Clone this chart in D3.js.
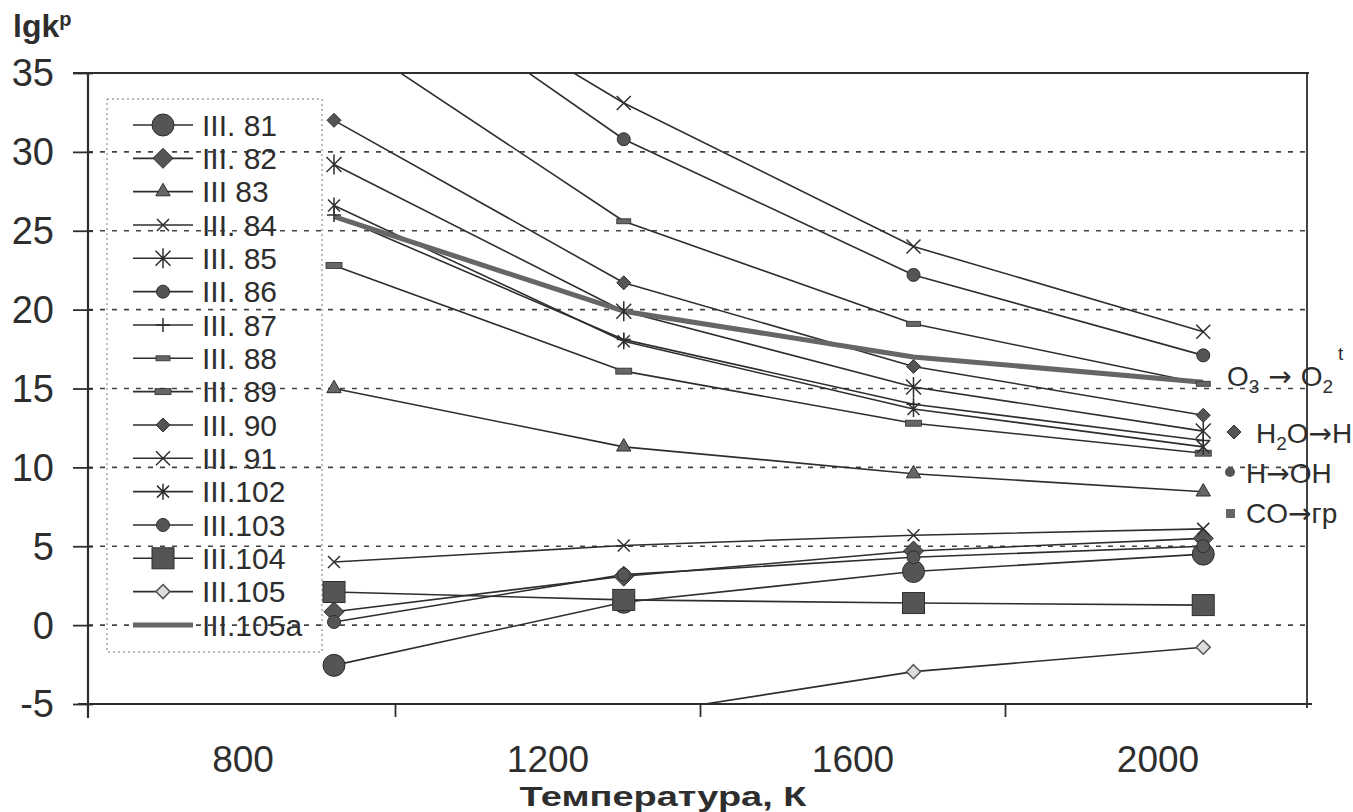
<!DOCTYPE html>
<html>
<head>
<meta charset="utf-8">
<script src="https://cdn.jsdelivr.net/npm/d3@7/dist/d3.min.js"></script>
<style>
  html, body { margin: 0; padding: 0; background: #fff; }
  svg { display: block; font-family: "Liberation Sans", Arial, sans-serif; }
</style>
</head>
<body>
<svg id="chart" width="1353" height="812"></svg>
<script>
// ---------------- DATA ----------------
const temps = [920, 1300, 1680, 2060];          // K, x positions of the 4 data columns
const seriesNames = ["III. 81","III. 82","III 83","III. 84","III. 85","III. 86","III. 87","III. 88",
                     "III. 89","III. 90","III. 91","III.102","III.103","III.104","III.105","III.105a"];
const s81  = [-2.55, 1.45, 3.4, 4.5];
const s82  = [0.85, 3.1, 4.7, 5.5];
const s83  = [15.0, 11.3, 9.6, 8.45];
const s84  = [4.0, 5.05, 5.7, 6.1];
const s85  = [29.2, 19.9, 15.1, 12.3];
const s86  = [43.6, 30.8, 22.2, 17.1];
const s87  = [26.0, 18.1, 14.0, 11.7];
const s88  = [37.8, 25.6, 19.1, 15.3];
const s89  = [22.8, 16.1, 12.8, 10.9];
const s90  = [32.0, 21.7, 16.4, 13.3];
const s91  = [44.1, 33.1, 24.0, 18.6];
const s102 = [26.6, 18.0, 13.7, 11.3];
const s103 = [0.2, 3.2, 4.3, 5.0];
const s104 = [2.1, 1.6, 1.4, 1.27];
const s105 = [null, -5.8, -2.95, -1.4];
const s105a = [25.9, 19.9, 17.0, 15.4];
const seriesValues = [s81, s82, s83, s84, s85, s86, s87, s88, s89, s90, s91, s102, s103, s104, s105, s105a];

const yTicks = [35, 30, 25, 20, 15, 10, 5, 0, -5];
const yGrid = [30, 25, 20, 15, 10, 5, 0];
const xLabelValues = [800, 1200, 1600, 2000];
const xTickValues = [1000, 1400, 1800];
const yTitle = "lgk";
const yTitleSup = "p";
const xTitle = "Температура, К";

// ---------------- STYLE ----------------
const markerTypes = ["bigCircle","bigDiamond","triangle","xSmall","bigStar","circle","plus","dash",
                     "dashBig","smallDiamond","x","star","circle","bigSquare","openDiamond","none"];
const ink = "#2e2e2e";
const markFill = "#555";
const arrowFont = "'DejaVu Sans', sans-serif";

const svg = d3.select("#chart");
const x = d3.scaleLinear().domain([600, 2200]).range([90, 1310]);
const y = d3.scaleLinear().domain([-5, 35]).range([704, 73]);
const plotL = 88, plotR = 1307, plotT = y(35), plotB = y(-5);

svg.append("defs").append("clipPath").attr("id", "plotclip")
  .append("rect").attr("x", plotL).attr("y", plotT).attr("width", plotR - plotL).attr("height", plotB - plotT);

// gridlines
svg.append("g").selectAll("line").data(yGrid).join("line")
  .attr("x1", plotL).attr("x2", plotR)
  .attr("y1", d => y(d)).attr("y2", d => y(d))
  .attr("stroke", "#444").attr("stroke-width", 1.6).attr("stroke-dasharray", "5,7");

// legend box (transparent, drawn under lines)
const legend = svg.append("g");
legend.append("rect").attr("x", 107).attr("y", 99).attr("width", 215).attr("height", 553)
  .attr("fill", "none").attr("stroke", "#777").attr("stroke-width", 1).attr("stroke-dasharray", "2,3");

function diamondPath(h) { return `M0,${-h}L${h},0L0,${h}L${-h},0Z`; }

function drawMarker(g, type, cx, cy) {
  const sw = 1.5;
  switch (type) {
    case "bigCircle":
      g.append("circle").attr("cx", cx).attr("cy", cy).attr("r", 11).attr("fill", markFill).attr("stroke", ink).attr("stroke-width", 1); break;
    case "circle":
      g.append("circle").attr("cx", cx).attr("cy", cy).attr("r", 6.5).attr("fill", markFill).attr("stroke", ink).attr("stroke-width", 1); break;
    case "bigDiamond":
      g.append("path").attr("d", diamondPath(10)).attr("transform", `translate(${cx},${cy})`).attr("fill", markFill).attr("stroke", ink); break;
    case "smallDiamond":
      g.append("path").attr("d", diamondPath(7)).attr("transform", `translate(${cx},${cy})`).attr("fill", markFill).attr("stroke", ink); break;
    case "openDiamond":
      g.append("path").attr("d", diamondPath(7)).attr("transform", `translate(${cx},${cy})`).attr("fill", "#ddd").attr("stroke", "#555").attr("stroke-width", 1.5); break;
    case "triangle":
      g.append("path").attr("d", d3.symbol(d3.symbolTriangle, 90)()).attr("transform", `translate(${cx},${cy})`).attr("fill", "#666").attr("stroke", ink); break;
    case "bigSquare":
      g.append("rect").attr("x", cx - 11).attr("y", cy - 10.5).attr("width", 22).attr("height", 21).attr("fill", markFill).attr("stroke", ink); break;
    case "dash":
      g.append("rect").attr("x", cx - 7).attr("y", cy - 2.5).attr("width", 14).attr("height", 5).attr("fill", "#666").attr("stroke", ink).attr("stroke-width", 0.8); break;
    case "dashBig":
      g.append("rect").attr("x", cx - 8).attr("y", cy - 3).attr("width", 16).attr("height", 6).attr("fill", "#666").attr("stroke", ink).attr("stroke-width", 0.8); break;
    case "xSmall": {
      const r = 6;
      g.append("path").attr("d", `M${cx-r},${cy-r}L${cx+r},${cy+r}M${cx-r},${cy+r}L${cx+r},${cy-r}`).attr("stroke", ink).attr("stroke-width", sw); break; }
    case "x": {
      const r = 7;
      g.append("path").attr("d", `M${cx-r},${cy-r}L${cx+r},${cy+r}M${cx-r},${cy+r}L${cx+r},${cy-r}`).attr("stroke", ink).attr("stroke-width", sw); break; }
    case "plus": {
      const r = 7;
      g.append("path").attr("d", `M${cx-r},${cy}L${cx+r},${cy}M${cx},${cy-r}L${cx},${cy+r}`).attr("stroke", ink).attr("stroke-width", sw); break; }
    case "bigStar": {
      const r = 10, q = 7.5;
      g.append("path").attr("d", `M${cx-q},${cy-q}L${cx+q},${cy+q}M${cx-q},${cy+q}L${cx+q},${cy-q}M${cx},${cy-r}L${cx},${cy+r}`).attr("stroke", ink).attr("stroke-width", sw); break; }
    case "star": {
      const r = 8, q = 6;
      g.append("path").attr("d", `M${cx-q},${cy-q}L${cx+q},${cy+q}M${cx-q},${cy+q}L${cx+q},${cy-q}M${cx},${cy-r}L${cx},${cy+r}`).attr("stroke", ink).attr("stroke-width", sw); break; }
    default: break;
  }
}

// legend entries
const legRow = i => 125 + i * 33.33;
seriesNames.forEach((name, i) => {
  const cy = legRow(i);
  const thick = markerTypes[i] === "none";
  legend.append("line").attr("x1", 133).attr("x2", 193).attr("y1", cy).attr("y2", cy)
    .attr("stroke", thick ? "#666" : ink).attr("stroke-width", thick ? 5 : 1.6);
  drawMarker(legend, markerTypes[i], 163, cy);
  legend.append("text").attr("x", 202).attr("y", cy).attr("dy", "0.36em")
    .attr("font-size", 30).attr("fill", ink).text(name);
});

// series lines
const linesG = svg.append("g").attr("clip-path", "url(#plotclip)");
const lineGen = d3.line().defined(d => d[1] !== null).x(d => x(d[0])).y(d => y(d[1]));
seriesValues.forEach((vals, i) => {
  const pts = temps.map((t, j) => [t, vals[j]]);
  const thick = markerTypes[i] === "none";
  linesG.append("path").datum(pts).attr("d", lineGen).attr("fill", "none")
    .attr("stroke", thick ? "#666" : ink).attr("stroke-width", thick ? 5 : 1.6)
    .attr("stroke-linejoin", "round");
});
// markers (only those within the plot range)
const marksG = svg.append("g");
seriesValues.forEach((vals, i) => {
  temps.forEach((t, j) => {
    const v = vals[j];
    if (v === null || v > 35 || v < -5) return;
    drawMarker(marksG, markerTypes[i], x(t), y(v));
  });
});

// frame
svg.append("line").attr("x1", 73).attr("x2", 1309).attr("y1", plotT).attr("y2", plotT).attr("stroke", ink).attr("stroke-width", 2);
svg.append("line").attr("x1", plotR).attr("x2", plotR).attr("y1", plotT).attr("y2", plotB + 4).attr("stroke", ink).attr("stroke-width", 1.8);

// y axis
const yAxis = svg.append("g").attr("transform", `translate(${plotL},0)`)
  .call(d3.axisLeft(y).tickValues(yTicks).tickSize(15).tickPadding(19).tickFormat(d => String(d)));
yAxis.select(".domain").attr("d", `M0,${plotT}V${plotB + 14}`).attr("stroke", ink).attr("stroke-width", 2.2);
yAxis.selectAll(".tick line").attr("x1", 5).attr("stroke", ink).attr("stroke-width", 1.8);
yAxis.selectAll(".tick text").attr("font-size", 38).attr("fill", ink)
  .attr("font-family", "'Liberation Sans', Arial, sans-serif").attr("dy", "0.34em");

// x axis (tick marks) and bottom line
const xAxis = svg.append("g").attr("transform", `translate(0,${plotB})`)
  .call(d3.axisBottom(x).tickValues(xTickValues).tickSize(13).tickFormat(""));
xAxis.select(".domain").attr("d", `M78,0H1312`).attr("stroke", ink).attr("stroke-width", 2.2);
xAxis.selectAll(".tick line").attr("stroke", ink).attr("stroke-width", 1.8);
// x labels
const xLab = svg.append("g").attr("transform", `translate(0,${plotB})`)
  .call(d3.axisBottom(x).tickValues(xLabelValues).tickSize(0).tickPadding(42).tickFormat(d => String(d)));
xLab.select(".domain").remove();
xLab.selectAll(".tick text").attr("font-size", 37).attr("fill", ink)
  .attr("font-family", "'Liberation Sans', Arial, sans-serif");

// axis titles
svg.append("text").attr("x", 663).attr("y", 806).attr("text-anchor", "middle")
  .attr("font-size", 27).attr("font-weight", "bold").attr("fill", ink)
  .attr("textLength", 287).attr("lengthAdjust", "spacingAndGlyphs").text(xTitle);
const yt = svg.append("text").attr("x", 13).attr("y", 37).attr("font-size", 32).attr("font-weight", "bold").attr("fill", ink);
yt.append("tspan").text(yTitle);
yt.append("tspan").attr("font-size", 20).attr("dy", -11).text(yTitleSup);

// right-hand annotations
const ann = svg.append("g").attr("fill", ink).attr("font-size", 28);
const a1 = ann.append("text").attr("x", 1227).attr("y", 386);
a1.append("tspan").text("O");
a1.append("tspan").attr("font-size", 19).attr("dy", 7).text("3");
a1.append("tspan").attr("dy", -7).attr("font-family", arrowFont).text(" → ");
a1.append("tspan").text("O");
a1.append("tspan").attr("font-size", 19).attr("dy", 7).text("2");
ann.append("text").attr("x", 1338).attr("y", 360).attr("font-size", 19).text("t");

drawMarker(ann, "smallDiamond", 1234, 432);
const a2 = ann.append("text").attr("x", 1256).attr("y", 443);
a2.append("tspan").text("H");
a2.append("tspan").attr("font-size", 19).attr("dy", 7).text("2");
a2.append("tspan").attr("dy", -7).text("O");
a2.append("tspan").attr("font-family", arrowFont).text("→");
a2.append("tspan").text("H");

ann.append("circle").attr("cx", 1230).attr("cy", 472).attr("r", 5).attr("fill", markFill);
const a3 = ann.append("text").attr("x", 1246).attr("y", 483);
a3.append("tspan").text("H");
a3.append("tspan").attr("font-family", arrowFont).text("→");
a3.append("tspan").text("OH");

ann.append("rect").attr("x", 1226).attr("y", 509).attr("width", 9).attr("height", 9).attr("fill", "#666");
const a4 = ann.append("text").attr("x", 1246).attr("y", 523);
a4.append("tspan").text("CO");
a4.append("tspan").attr("font-family", arrowFont).text("→");
a4.append("tspan").text("гр");
</script>
</body>
</html>
